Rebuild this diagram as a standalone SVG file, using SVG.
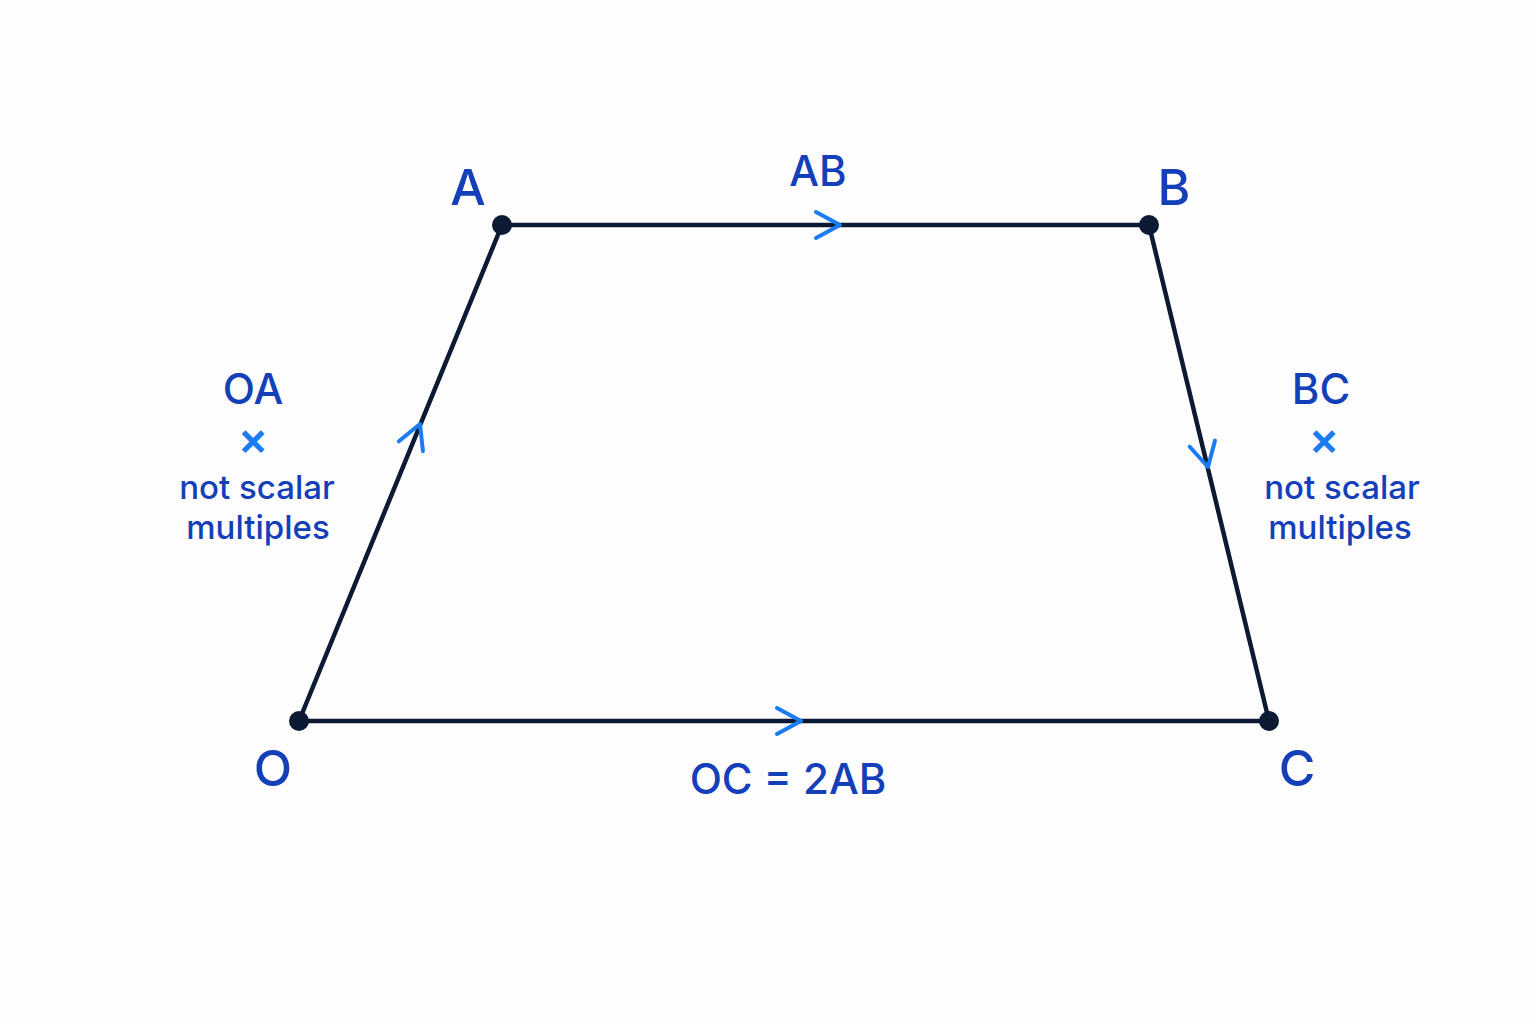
<svg xmlns="http://www.w3.org/2000/svg" width="1536" height="1024" viewBox="0 0 1536 1024">
<defs>
<style>
.edge{stroke:#0d1a33;stroke-width:4.5;fill:none;stroke-linecap:round}
.chev{stroke:#1a7cf0;stroke-width:4;fill:none;stroke-linecap:round;stroke-linejoin:round}
.dot{fill:#0d1a33}
.vl{font-family:Inter,"Open Sans","Liberation Sans",sans-serif;font-size:50px;font-weight:500;fill:#1340b8;text-anchor:middle}
.el{font-family:Inter,"Open Sans","Liberation Sans",sans-serif;font-size:42px;font-weight:500;fill:#1340b8;text-anchor:middle}
.nt{font-family:Inter,"Open Sans","Liberation Sans",sans-serif;font-size:33px;font-weight:500;fill:#1340b8;text-anchor:middle}
.x{font-family:Inter,"Open Sans","Liberation Sans",sans-serif;font-size:46px;font-weight:600;fill:#1a7cf0;text-anchor:middle}
</style>
<path id="chevron" d="M -24,-13 L 0,0 L -24,13"/>
</defs>
<rect width="1536" height="1024" fill="#fdfdfd"/>
<g id="connectors">
<line class="edge" x1="502" y1="225" x2="1149" y2="225"/>
<line class="edge" x1="299" y1="721" x2="1269" y2="721"/>
<line class="edge" x1="299" y1="721" x2="502" y2="225"/>
<line class="edge" x1="1149" y1="225" x2="1269" y2="721"/>
<use href="#chevron" class="chev" transform="translate(840,225)"/>
<use href="#chevron" class="chev" transform="translate(801,721)"/>
<use href="#chevron" class="chev" transform="translate(420,424) rotate(-67.7)"/>
<use href="#chevron" class="chev" transform="translate(1208,467) rotate(76.4)"/>
</g>
<g id="node-A"><circle class="dot" cx="502" cy="225" r="10"/><text class="vl" x="468" y="205">A</text></g>
<g id="node-B"><circle class="dot" cx="1149" cy="225" r="10"/><text class="vl" x="1174" y="205">B</text></g>
<g id="node-O"><circle class="dot" cx="299" cy="721" r="10"/><text class="vl" x="273" y="786">O</text></g>
<g id="node-C"><circle class="dot" cx="1269" cy="721" r="10"/><text class="vl" x="1297" y="786">C</text></g>
<g id="labels">
<text class="el" x="818" y="186">AB</text>
<text class="el" x="788" y="794">OC = 2AB</text>
<text class="el" x="253" y="404">OA</text>
<text class="x" x="253" y="455">×</text>
<text class="nt" x="257" y="499">not scalar</text>
<text class="nt" x="258" y="539">multiples</text>
<text class="el" x="1321" y="404">BC</text>
<text class="x" x="1324" y="455">×</text>
<text class="nt" x="1342" y="499">not scalar</text>
<text class="nt" x="1340" y="539">multiples</text>
</g>
</svg>
